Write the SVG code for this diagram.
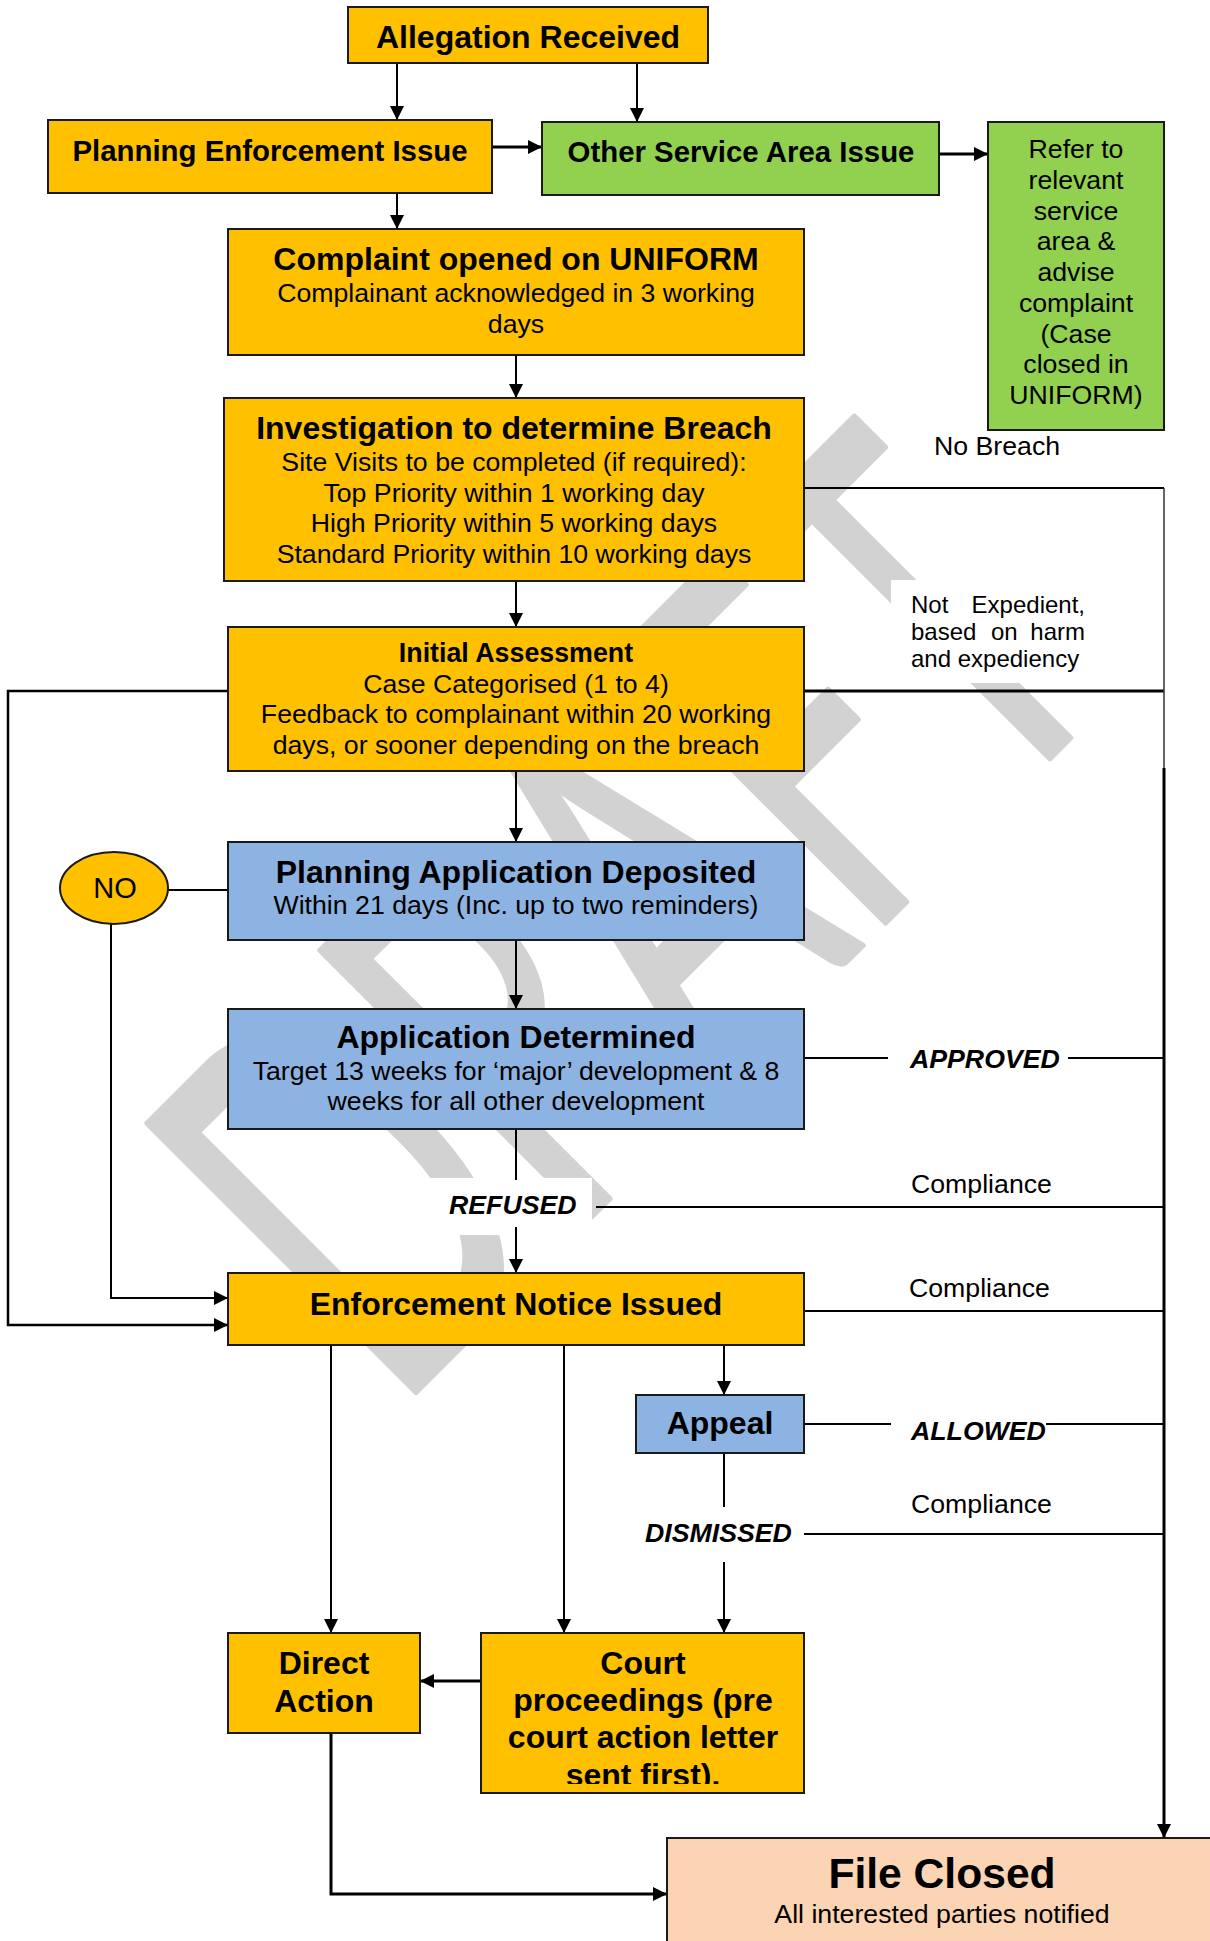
<svg xmlns="http://www.w3.org/2000/svg" width="1210" height="1941" viewBox="0 0 1210 1941">
<style>
.t{font-family:"Liberation Sans",Arial,sans-serif;fill:#000}
.c{text-anchor:middle}
.b{font-weight:bold}
.bi{font-weight:bold;font-style:italic}
.box{stroke:#1a1a1a;stroke-width:2}
.or{fill:#ffc000}
.gr{fill:#92d050}
.bl{fill:#8db3e2}
.pe{fill:#fbd4b4}
.s26{font-size:26.7px}
.s24{font-size:24px}
.s32{font-size:32px}
</style>
<defs>
<marker id="arr" viewBox="0 0 14 14" refX="14" refY="7" markerWidth="14" markerHeight="14" markerUnits="userSpaceOnUse" orient="auto">
<path d="M0,0 L14,7 L0,14 z" fill="#000"/>
</marker>
<clipPath id="courtClip"><rect x="481" y="1633" width="323" height="151"/></clipPath>
</defs>
<rect width="1210" height="1941" fill="#fff"/>
<g id="watermark">
<text transform="translate(410,1398) rotate(-45)" x="-22" y="0" font-family="Lato,'Liberation Sans',sans-serif" font-size="530" fill="#d2d2d2" stroke="#d2d2d2" stroke-width="6" stroke-linejoin="round" textLength="1036" lengthAdjust="spacingAndGlyphs">DRAFT</text>
</g>
<g id="label-backgrounds" fill="#fff">
<rect x="891" y="580" width="200" height="103"/>
<rect x="368" y="1178" width="224" height="57"/>
</g>
<g id="connectors" fill="none" stroke="#000" stroke-width="2">
<path d="M397,63 V120" marker-end="url(#arr)"/>
<path d="M637,63 V122" marker-end="url(#arr)"/>
<path d="M492,147 H542" stroke-width="3" marker-end="url(#arr)"/>
<path d="M939,154 H988" stroke-width="3" marker-end="url(#arr)"/>
<path d="M397,193 V229" marker-end="url(#arr)"/>
<path d="M516,355 V398" marker-end="url(#arr)"/>
<path d="M516,581 V627" marker-end="url(#arr)"/>
<path d="M516,771 V842" marker-end="url(#arr)"/>
<path d="M516,940 V1009" marker-end="url(#arr)"/>
<path d="M516,1129 V1180"/>
<path d="M516,1227 V1273" marker-end="url(#arr)"/>
<path d="M596,1207 H1164"/>
<path d="M804,1058 H888 M1068,1058 H1164"/>
<path d="M804,488 H1164"/>
<path d="M804,691 H1164" stroke-width="3"/>
<path d="M1164,488 V768" stroke="#333" stroke-width="1.5"/>
<path d="M1164,768 V1838" stroke-width="3" marker-end="url(#arr)"/>
<path d="M228,691 H8 V1325 H228" stroke-width="2.5" marker-end="url(#arr)"/>
<path d="M168,890 H228"/>
<path d="M111,924 V1298 H228" marker-end="url(#arr)"/>
<path d="M724,1345 V1395" marker-end="url(#arr)"/>
<path d="M331,1345 V1633" marker-end="url(#arr)"/>
<path d="M564,1345 V1633" marker-end="url(#arr)"/>
<path d="M804,1311 H1164"/>
<path d="M804,1424 H891 M1046,1424 H1164"/>
<path d="M724,1453 V1507"/>
<path d="M724,1562 V1633" marker-end="url(#arr)"/>
<path d="M804,1534 H1164"/>
<path d="M481,1681 H420" stroke-width="3" marker-end="url(#arr)"/>
<path d="M331,1733 V1894 H667" stroke-width="3" marker-end="url(#arr)"/>
</g>
<g id="allegation-received">
<rect class="box or" x="348" y="7" width="360" height="56"/>
<text class="t c b s32" x="528" y="48">Allegation Received</text>
</g>
<g id="planning-enforcement-issue">
<rect class="box or" x="48" y="120" width="444" height="73"/>
<text class="t c b" font-size="29.4" x="270" y="161">Planning Enforcement Issue</text>
</g>
<g id="other-service-area-issue">
<rect class="box gr" x="542" y="122" width="397" height="73"/>
<text class="t c b" font-size="29.4" x="741" y="162">Other Service Area Issue</text>
</g>
<g id="refer-to-service">
<rect class="box gr" x="988" y="122" width="176" height="308"/>
<text class="t c s26" x="1076" y="158">Refer to</text>
<text class="t c s26" x="1076" y="189">relevant</text>
<text class="t c s26" x="1076" y="220">service</text>
<text class="t c s26" x="1076" y="250">area &amp;</text>
<text class="t c s26" x="1076" y="281">advise</text>
<text class="t c s26" x="1076" y="312">complaint</text>
<text class="t c s26" x="1076" y="343">(Case</text>
<text class="t c s26" x="1076" y="373">closed in</text>
<text class="t c s26" x="1076" y="404">UNIFORM)</text>
</g>
<g id="complaint-opened">
<rect class="box or" x="228" y="229" width="576" height="126"/>
<text class="t c b s32" x="516" y="270">Complaint opened on UNIFORM</text>
<text class="t c s26" x="516" y="302">Complainant acknowledged in 3 working</text>
<text class="t c s26" x="516" y="333">days</text>
</g>
<g id="investigation">
<rect class="box or" x="224" y="398" width="580" height="183"/>
<text class="t c b s32" x="514" y="439">Investigation to determine Breach</text>
<text class="t c s26" x="514" y="471">Site Visits to be completed (if required):</text>
<text class="t c s26" x="514" y="502">Top Priority within 1 working day</text>
<text class="t c s26" x="514" y="532">High Priority within 5 working days</text>
<text class="t c s26" x="514" y="563">Standard Priority within 10 working days</text>
</g>
<g id="initial-assessment">
<rect class="box or" x="228" y="627" width="576" height="144"/>
<text class="t c b" font-size="26.8" x="516" y="662">Initial Assessment</text>
<text class="t c s26" x="516" y="693">Case Categorised (1 to 4)</text>
<text class="t c s26" x="516" y="723">Feedback to complainant within 20 working</text>
<text class="t c s26" x="516" y="754">days, or sooner depending on the breach</text>
</g>
<g id="no">
<ellipse class="box or" cx="114" cy="888" rx="54" ry="36"/>
<text class="t c" font-size="29" x="115" y="898">NO</text>
</g>
<g id="planning-application-deposited">
<rect class="box bl" x="228" y="842" width="576" height="98"/>
<text class="t c b s32" x="516" y="883">Planning Application Deposited</text>
<text class="t c s26" x="516" y="914">Within 21 days (Inc. up to two reminders)</text>
</g>
<g id="application-determined">
<rect class="box bl" x="228" y="1009" width="576" height="120"/>
<text class="t c b s32" x="516" y="1048">Application Determined</text>
<text class="t c s26" x="516" y="1080">Target 13 weeks for ‘major’ development &amp; 8</text>
<text class="t c s26" x="516" y="1110">weeks for all other development</text>
</g>
<g id="enforcement-notice-issued">
<rect class="box or" x="228" y="1273" width="576" height="72"/>
<text class="t c b s32" x="516" y="1315">Enforcement Notice Issued</text>
</g>
<g id="appeal">
<rect class="box bl" x="636" y="1395" width="168" height="58"/>
<text class="t c b s32" x="720" y="1434">Appeal</text>
</g>
<g id="direct-action">
<rect class="box or" x="228" y="1633" width="192" height="100"/>
<text class="t c b s32" x="324" y="1674">Direct</text>
<text class="t c b s32" x="324" y="1712">Action</text>
</g>
<g id="court-proceedings">
<rect class="box or" x="481" y="1633" width="323" height="160"/>
<g clip-path="url(#courtClip)">
<text class="t c b s32" x="643" y="1674">Court</text>
<text class="t c b s32" x="643" y="1711">proceedings (pre</text>
<text class="t c b s32" x="643" y="1748">court action letter</text>
<text class="t c b s32" x="643" y="1786">sent first).</text>
</g>
</g>
<g id="file-closed">
<rect class="box pe" x="667" y="1838" width="560" height="120"/>
<text class="t c b" font-size="42.6" x="942" y="1888">File Closed</text>
<text class="t c s26" x="942" y="1923">All interested parties notified</text>
</g>
<g id="labels">
<text class="t s26" x="934" y="455">No Breach</text>
<text class="t s24" x="911" y="613">Not</text>
<text class="t s24" x="1085" y="613" text-anchor="end">Expedient,</text>
<text class="t s24" x="911" y="640">based</text>
<text class="t s24" x="991" y="640">on</text>
<text class="t s24" x="1085" y="640" text-anchor="end">harm</text>
<text class="t s24" x="911" y="667">and expediency</text>
<text class="t bi s26" x="910" y="1068">APPROVED</text>
<text class="t s26" x="911" y="1193">Compliance</text>
<text class="t bi s26" x="449" y="1214">REFUSED</text>
<text class="t s26" x="909" y="1297">Compliance</text>
<text class="t bi s26" x="911" y="1440">ALLOWED</text>
<text class="t s26" x="911" y="1513">Compliance</text>
<text class="t bi s26" x="645" y="1542">DISMISSED</text>
</g>
</svg>
